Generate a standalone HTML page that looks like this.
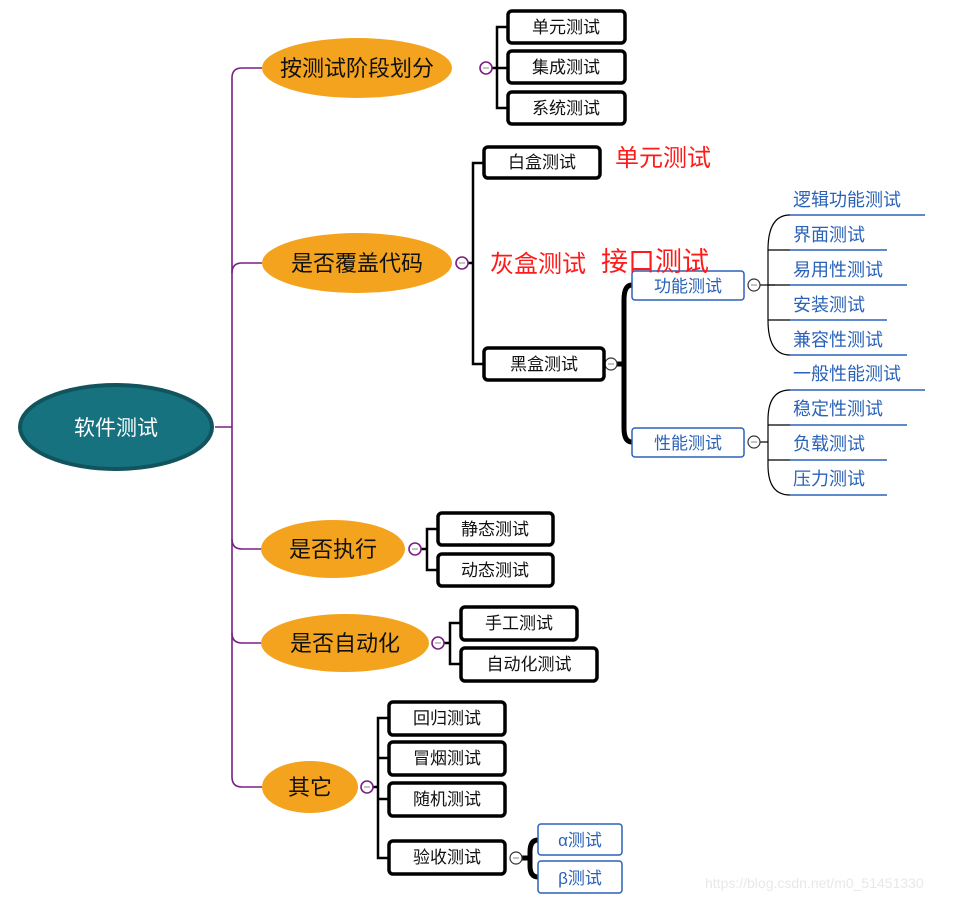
<!DOCTYPE html>
<html><head><meta charset="utf-8"><style>
body{margin:0;background:#fff}
svg text{font-family:"Liberation Sans","Noto Sans CJK SC",sans-serif}
</style></head><body>
<svg width="960" height="900" viewBox="0 0 960 900" xmlns="http://www.w3.org/2000/svg">
<!-- purple trunk -->
<g fill="none" stroke="#7a1f85" stroke-width="1.6">
<path d="M215 427 H232"/>
<path d="M262 68 H242 Q232 68 232 78 V777 Q232 787 242 787 H262"/>
<path d="M262 263 H242 Q232 263 232 273"/>
<path d="M262 549 H242 Q232 549 232 539"/>
<path d="M262 643 H242 Q232 643 232 633"/>
</g>
<!-- root -->
<ellipse cx="116" cy="427" rx="96" ry="42" fill="#17727f" stroke="#11545e" stroke-width="4"/>
<text x="116" y="435" font-size="21" fill="#fff" text-anchor="middle">软件测试</text>

<!-- black brackets -->
<g fill="none" stroke="#000" stroke-width="2.5">
<path d="M492 68 H497 M508 27 H497 V108 H508 M497 68 H508"/>
<path d="M468 263 H473 M484 163 H473 V364 H484"/>
<path d="M421 549 H427 M438 529 H427 V570 H438"/>
<path d="M444 643 H450 M461 623 H450 V664 H461"/>
<path d="M373 787 H378 M389 718 H378 V858 H389 M378 758 H389 M378 799 H389"/>
</g>
<!-- thick curly brackets -->
<path d="M617 364 H622 M632 285 Q624 285 624 300 V428 Q624 442 632 442" fill="none" stroke="#000" stroke-width="5"/>
<path d="M522 858 H528 M538 840 Q530 840 530 852 V866 Q530 877 538 877" fill="none" stroke="#000" stroke-width="5"/>
<!-- thin curves to leaves -->
<g fill="none" stroke="#000" stroke-width="1.2">
<path d="M760 285 H775"/>
<path d="M790 215 Q768 215 768 250 V320 Q768 355 790 355"/>
<path d="M768 250 Q768 250 790 250 M768 285 H790 M768 320 H790"/>
<path d="M760 442 H768"/>
<path d="M790 390 Q768 390 768 420 V465 Q768 495 790 495"/>
<path d="M768 425 H790 M768 460 H790"/>
</g>
<!-- blue leaf underlines -->
<g stroke="#2a62b8" stroke-width="1.5">
<line x1="790" y1="215" x2="925" y2="215"/>
<line x1="790" y1="250" x2="887" y2="250"/>
<line x1="790" y1="285" x2="907" y2="285"/>
<line x1="790" y1="320" x2="887" y2="320"/>
<line x1="790" y1="355" x2="907" y2="355"/>
<line x1="790" y1="390" x2="925" y2="390"/>
<line x1="790" y1="425" x2="907" y2="425"/>
<line x1="790" y1="460" x2="887" y2="460"/>
<line x1="790" y1="495" x2="887" y2="495"/>
</g>
<g font-size="18" fill="#2a62b8">
<text x="793" y="206">逻辑功能测试</text>
<text x="793" y="241">界面测试</text>
<text x="793" y="276">易用性测试</text>
<text x="793" y="311">安装测试</text>
<text x="793" y="346">兼容性测试</text>
<text x="793" y="380">一般性能测试</text>
<text x="793" y="415">稳定性测试</text>
<text x="793" y="450">负载测试</text>
<text x="793" y="485">压力测试</text>
</g>

<!-- orange ellipses -->
<g fill="#f4a31e">
<ellipse cx="357" cy="68" rx="95" ry="30"/>
<ellipse cx="357" cy="263" rx="95" ry="30"/>
<ellipse cx="333" cy="549" rx="72" ry="29"/>
<ellipse cx="345" cy="643" rx="84" ry="29"/>
<ellipse cx="310" cy="787" rx="48" ry="26"/>
</g>
<g font-size="22" fill="#111" text-anchor="middle">
<text x="357" y="76">按测试阶段划分</text>
<text x="357" y="271">是否覆盖代码</text>
<text x="333" y="557">是否执行</text>
<text x="345" y="651">是否自动化</text>
<text x="310" y="795">其它</text>
</g>

<!-- collapse circles -->
<g fill="#fff" stroke="#7a1f85" stroke-width="1.6">
<circle cx="486" cy="68" r="6"/>
<circle cx="462" cy="263" r="6"/>
<circle cx="415" cy="549" r="6"/>
<circle cx="438" cy="643" r="6"/>
<circle cx="367" cy="787" r="6"/>
</g>
<g fill="#fff" stroke="#333" stroke-width="1.2">
<circle cx="611" cy="364" r="6"/>
<circle cx="754" cy="285" r="6"/>
<circle cx="754" cy="442" r="6"/>
<circle cx="516" cy="858" r="6"/>
</g>
<g stroke="#888" stroke-width="1">
<line x1="483" y1="68" x2="489" y2="68"/><line x1="459" y1="263" x2="465" y2="263"/>
<line x1="412" y1="549" x2="418" y2="549"/><line x1="435" y1="643" x2="441" y2="643"/>
<line x1="364" y1="787" x2="370" y2="787"/><line x1="608" y1="364" x2="614" y2="364"/>
<line x1="751" y1="285" x2="757" y2="285"/><line x1="751" y1="442" x2="757" y2="442"/>
<line x1="513" y1="858" x2="519" y2="858"/>
</g>

<!-- black boxes -->
<g fill="#fff" stroke="#000" stroke-width="3.5">
<rect x="508" y="11" width="117" height="32" rx="4"/>
<rect x="508" y="51" width="117" height="32" rx="4"/>
<rect x="508" y="92" width="117" height="32" rx="4"/>
<rect x="484" y="147" width="116" height="31" rx="4"/>
<rect x="484" y="348" width="120" height="32" rx="4"/>
<rect x="438" y="513" width="115" height="32" rx="4"/>
<rect x="438" y="554" width="115" height="32" rx="4"/>
<rect x="461" y="607" width="116" height="33" rx="4"/>
<rect x="461" y="648" width="136" height="33" rx="4"/>
<rect x="389" y="702" width="116" height="33" rx="4"/>
<rect x="389" y="742" width="116" height="33" rx="4"/>
<rect x="389" y="783" width="116" height="33" rx="4"/>
<rect x="389" y="841" width="116" height="33" rx="4"/>
</g>
<g font-size="17" fill="#111" text-anchor="middle">
<text x="566" y="33">单元测试</text>
<text x="566" y="73">集成测试</text>
<text x="566" y="114">系统测试</text>
<text x="542" y="168">白盒测试</text>
<text x="544" y="370">黑盒测试</text>
<text x="495" y="535">静态测试</text>
<text x="495" y="576">动态测试</text>
<text x="519" y="629">手工测试</text>
<text x="529" y="670">自动化测试</text>
<text x="447" y="724">回归测试</text>
<text x="447" y="764">冒烟测试</text>
<text x="447" y="805">随机测试</text>
<text x="447" y="863">验收测试</text>
</g>
<!-- blue boxes -->
<g fill="#fff" stroke="#2a62b8" stroke-width="1.5">
<rect x="632" y="271" width="112" height="29" rx="3"/>
<rect x="632" y="428" width="112" height="29" rx="3"/>
<rect x="538" y="824" width="84" height="31" rx="3"/>
<rect x="538" y="861" width="84" height="32" rx="3"/>
</g>
<g font-size="17" fill="#2a62b8" text-anchor="middle">
<text x="688" y="292">功能测试</text>
<text x="688" y="449">性能测试</text>
<text x="580" y="846">α测试</text>
<text x="580" y="884">β测试</text>
</g>
<!-- red annotations -->
<g fill="#ff1a1a">
<text x="615" y="166" font-size="24">单元测试</text>
<text x="490" y="272" font-size="24">灰盒测试</text>
<text x="601" y="271" font-size="27">接口测试</text>
</g>
<text x="705" y="888" font-size="14" fill="#e8e8e8">https://blog.csdn.net/m0_51451330</text>
</svg>
</body></html>
